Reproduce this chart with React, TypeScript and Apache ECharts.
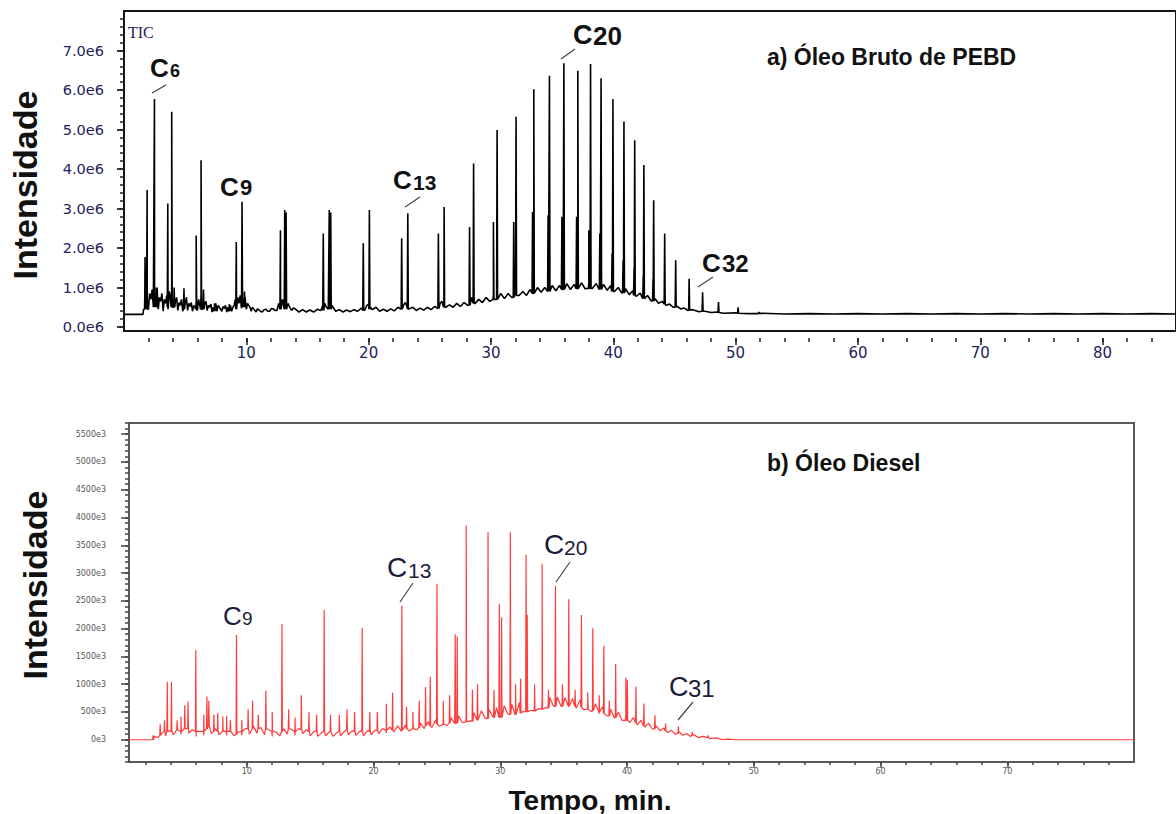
import React, { useEffect, useRef } from "react";
import * as echarts from "echarts";

// ---------- data: a) Óleo Bruto de PEBD (intensity in units of 1e6) ----------
const topBase: [number, number][] = [
  [0, 0.32], [1.55, 0.32], [1.6, 0.45], [1.7, 0.8], [1.8, 0.6], [1.9, 0.9], [2.0, 0.45], [2.1, 0.85], [2.2, 0.7],
  [2.3, 0.95], [2.4, 0.5], [2.5, 0.8], [2.6, 0.75], [2.7, 1.0], [2.8, 0.45], [2.9, 0.75], [3.0, 0.65], [3.1, 0.85],
  [3.2, 0.4], [3.3, 0.7], [3.4, 0.6], [3.5, 0.8], [3.6, 0.45], [3.7, 0.9], [3.8, 0.7], [3.9, 1.0], [4.0, 0.5],
  [4.1, 0.95], [4.2, 0.65], [4.3, 0.75], [4.4, 0.42], [4.5, 0.62], [4.6, 0.55], [4.7, 0.7], [4.8, 0.4], [4.9, 0.9],
  [5.0, 0.6], [5.1, 0.75], [5.2, 0.42], [5.3, 0.6], [5.4, 0.52], [5.5, 0.62], [5.6, 0.4], [5.7, 0.55], [5.8, 0.5],
  [5.9, 0.65], [6.0, 0.42], [6.1, 0.7], [6.2, 0.55], [6.3, 0.8], [6.4, 0.45], [6.5, 0.9], [6.6, 0.6], [6.7, 0.65],
  [6.8, 0.42], [6.9, 0.55], [7.0, 0.5], [7.1, 0.58], [7.2, 0.38], [7.3, 0.5], [7.4, 0.48], [7.5, 0.6], [7.6, 0.4],
  [7.7, 0.55], [7.8, 0.5], [7.9, 0.45], [8.0, 0.4], [8.1, 0.52], [8.2, 0.47], [8.3, 0.55], [8.4, 0.38], [8.5, 0.5],
  [8.6, 0.46], [8.7, 0.55], [8.8, 0.4], [8.9, 0.5], [9.0, 0.55], [9.1, 0.7], [9.2, 0.45], [9.3, 0.75], [9.4, 0.6],
  [9.5, 0.8], [9.6, 0.48], [9.7, 0.7], [9.8, 0.62], [9.9, 0.75], [10.0, 0.45], [10.1, 0.6], [10.2, 0.55],
  [10.3, 0.5], [10.4, 0.4], [10.5, 0.5], [10.6, 0.46], [10.7, 0.42], [10.8, 0.38], [10.9, 0.46], [11.0, 0.44],
  [11.15, 0.4], [11.3, 0.38], [11.45, 0.44], [11.6, 0.45], [11.75, 0.4], [11.9, 0.4], [12.05, 0.47], [12.2, 0.46],
  [12.35, 0.42], [12.5, 0.42], [12.65, 0.6], [12.8, 0.55], [12.95, 0.7], [13.1, 0.45], [13.25, 0.75], [13.4, 0.6],
  [13.55, 0.5], [13.7, 0.42], [13.85, 0.48], [14.0, 0.46], [14.3, 0.38], [14.6, 0.44], [14.9, 0.38], [15.2, 0.43],
  [15.5, 0.38], [15.8, 0.45], [16.1, 0.42], [16.25, 0.55], [16.4, 0.6], [16.55, 0.5], [16.7, 0.45], [16.85, 0.65],
  [17.0, 0.55], [17.3, 0.4], [17.6, 0.44], [17.9, 0.38], [18.2, 0.43], [18.5, 0.39], [18.8, 0.44], [19.1, 0.4],
  [19.4, 0.48], [19.7, 0.43], [19.85, 0.55], [20.0, 0.58], [20.15, 0.5], [20.3, 0.44], [20.6, 0.5], [20.9, 0.4],
  [21.2, 0.45], [21.5, 0.4], [21.8, 0.46], [22.1, 0.41], [22.4, 0.5], [22.7, 0.45], [22.85, 0.55], [23.0, 0.62],
  [23.15, 0.5], [23.3, 0.46], [23.6, 0.5], [23.9, 0.42], [24.2, 0.48], [24.5, 0.43], [24.8, 0.5], [25.1, 0.44],
  [25.4, 0.52], [25.7, 0.47], [25.85, 0.6], [26.0, 0.65], [26.15, 0.55], [26.3, 0.5], [26.6, 0.56], [26.9, 0.5],
  [27.2, 0.6], [27.5, 0.52], [27.8, 0.62], [28.1, 0.55], [28.4, 0.75], [28.7, 0.6], [29.0, 0.7], [29.3, 0.62],
  [29.6, 0.75], [29.9, 0.65], [30.2, 0.8], [30.5, 0.7], [30.8, 0.85], [31.1, 0.72], [31.4, 0.85], [31.7, 0.75],
  [32.0, 0.92], [32.3, 0.8], [32.6, 0.9], [32.9, 0.8], [33.2, 0.95], [33.5, 0.85], [33.8, 1.0], [34.1, 0.88],
  [34.4, 1.0], [34.7, 0.9], [35.0, 1.05], [35.3, 0.92], [35.6, 1.05], [35.9, 0.95], [36.2, 1.1], [36.5, 0.95],
  [36.8, 1.08], [37.1, 0.97], [37.4, 1.12], [37.7, 0.97], [38.0, 1.1], [38.3, 0.98], [38.6, 1.1], [38.9, 0.95],
  [39.2, 1.08], [39.5, 0.93], [39.8, 1.05], [40.1, 0.9], [40.4, 1.0], [40.7, 0.86], [41.0, 0.97], [41.3, 0.82],
  [41.6, 0.92], [41.9, 0.78], [42.2, 0.86], [42.5, 0.72], [42.8, 0.8], [43.1, 0.66], [43.4, 0.72], [43.7, 0.6],
  [44.0, 0.65], [44.3, 0.55], [44.6, 0.58], [44.9, 0.5], [45.2, 0.53], [45.5, 0.46], [45.8, 0.48], [46.1, 0.42],
  [46.5, 0.44], [47.0, 0.39], [47.5, 0.4], [48.0, 0.37], [48.5, 0.38], [49.0, 0.35], [50, 0.36], [51, 0.34],
  [52, 0.35], [54, 0.33], [56, 0.34], [58, 0.33], [60, 0.34], [62, 0.33], [64, 0.34], [66, 0.33], [68, 0.34],
  [70, 0.33], [72, 0.34], [74, 0.33], [76, 0.34], [78, 0.33], [80, 0.34], [82, 0.33], [84, 0.34], [86, 0.33],
];

// [retention time, base, apex]
const topPeaks: [number, number, number][] = [
  [1.72, 0.45, 1.77], [1.89, 0.45, 3.47], [2.49, 0.5, 5.77], [2.65, 0.5, 1.0], [3.58, 0.5, 3.13], [3.9, 0.5, 5.45],
  [4.1, 0.5, 1.0], [4.9, 0.45, 0.98], [5.9, 0.45, 2.32], [6.3, 0.45, 4.22], [6.5, 0.45, 0.95], [7.4, 0.4, 0.6],
  [8.6, 0.4, 0.58], [9.18, 0.45, 2.15], [9.65, 0.5, 3.17], [9.85, 0.5, 0.9], [12.79, 0.45, 2.45], [13.14, 0.45, 2.96],
  [13.25, 0.45, 2.9], [16.29, 0.42, 2.37], [16.78, 0.45, 2.96], [16.9, 0.45, 2.9], [19.56, 0.42, 2.12],
  [20.06, 0.45, 2.96], [22.7, 0.45, 2.25], [23.2, 0.45, 2.88], [25.7, 0.47, 2.37], [26.17, 0.5, 3.04],
  [28.25, 0.55, 2.53], [28.58, 0.6, 4.14], [30.2, 0.7, 2.66], [30.5, 0.7, 4.99], [31.86, 0.75, 2.66],
  [32.05, 0.8, 5.32], [33.4, 0.85, 2.91], [33.5, 0.85, 6.02], [34.67, 0.9, 2.83], [34.78, 0.9, 6.36],
  [35.8, 0.95, 2.79], [35.96, 0.95, 6.68], [37.0, 0.97, 2.79], [37.1, 0.97, 6.49], [38.0, 0.98, 2.45],
  [38.14, 0.98, 6.66], [38.9, 0.95, 2.37], [39.0, 0.95, 6.3], [39.9, 0.9, 1.86], [39.97, 0.9, 5.77],
  [40.8, 0.86, 1.69], [40.87, 0.86, 5.2], [41.7, 0.8, 1.5], [41.75, 0.8, 4.73], [42.45, 0.72, 1.3],
  [42.5, 0.72, 4.1], [43.25, 0.66, 1.2], [43.3, 0.66, 3.21], [44.2, 0.58, 2.37], [45.1, 0.5, 1.69],
  [46.2, 0.43, 1.22], [47.3, 0.4, 0.88], [48.6, 0.37, 0.63], [50.2, 0.35, 0.5], [51.9, 0.34, 0.38],
];

// ---------- data: b) Óleo Diesel (intensity in units of 1e3) ----------
const dieselBase: [number, number][] = [
  [0.7, 0], [2.5, 0], [2.7, 60], [3.0, 40], [3.3, 120], [3.6, 70], [3.9, 160], [4.2, 90], [4.5, 170], [4.8, 100],
  [5.1, 210], [5.4, 120], [5.7, 180], [6.0, 60], [6.3, 150], [6.6, 80], [6.9, 200], [7.2, 110], [7.5, 200], [7.8, 90],
  [8.1, 180], [8.4, 80], [8.7, 160], [9.0, 70], [9.3, 140], [9.6, 80], [9.9, 200], [10.2, 100], [10.5, 250],
  [10.8, 120], [11.1, 220], [11.4, 90], [11.7, 180], [12.0, 60], [12.3, 140], [12.6, 70], [12.9, 200], [13.2, 100],
  [13.5, 190], [13.8, 80], [14.1, 200], [14.4, 110], [14.7, 180], [15.0, 70], [15.3, 150], [15.6, 60], [15.9, 130],
  [16.2, 70], [16.5, 140], [16.8, 60], [17.1, 130], [17.4, 70], [17.7, 150], [18.0, 90], [18.3, 160], [18.6, 80],
  [18.9, 150], [19.2, 70], [19.5, 160], [19.8, 90], [20.1, 170], [20.4, 110], [20.7, 200], [21.0, 120], [21.3, 230],
  [21.6, 140], [21.9, 250], [22.2, 150], [22.5, 260], [22.8, 160], [23.1, 280], [23.4, 180], [23.7, 300], [24.0, 200],
  [24.3, 330], [24.6, 220], [24.9, 360], [25.2, 240], [25.5, 380], [25.8, 260], [26.1, 400], [26.4, 290], [26.7, 430],
  [27.0, 310], [27.3, 460], [27.6, 340], [27.9, 490], [28.2, 360], [28.5, 520], [28.8, 390], [29.1, 550], [29.4, 420],
  [29.7, 580], [30.0, 440], [30.3, 610], [30.6, 460], [30.9, 640], [31.2, 490], [31.5, 670], [31.8, 510], [32.1, 700],
  [32.4, 530], [32.7, 720], [33.0, 560], [33.3, 740], [33.6, 580], [33.9, 760], [34.2, 600], [34.5, 770], [34.8, 600],
  [35.1, 760], [35.4, 590], [35.7, 740], [36.0, 570], [36.3, 720], [36.6, 540], [36.9, 690], [37.2, 510], [37.5, 650],
  [37.8, 470], [38.1, 600], [38.4, 430], [38.7, 550], [39.0, 390], [39.3, 500], [39.6, 350], [39.9, 450], [40.2, 310],
  [40.5, 400], [40.8, 270], [41.1, 350], [41.4, 230], [41.7, 300], [42.0, 190], [42.3, 250], [42.6, 160], [42.9, 210],
  [43.2, 130], [43.5, 170], [43.8, 100], [44.1, 140], [44.4, 80], [44.7, 110], [45.0, 60], [45.3, 90], [45.6, 40],
  [46.0, 60], [46.5, 20], [47.0, 35], [47.5, 5], [48.0, 10], [48.5, 0], [80, 0],
];

const dieselPeaks: [number, number, number][] = [
  [2.6, 0, 80], [3.16, 80, 280], [3.5, 150, 350], [3.72, 150, 1043], [4.05, 150, 1043], [4.5, 180, 350],
  [4.8, 150, 420], [5.1, 200, 620], [5.36, 200, 690], [5.97, 150, 1615], [6.6, 150, 450], [6.85, 200, 780],
  [7.0, 250, 700], [7.4, 150, 450], [7.7, 150, 480], [8.1, 150, 420], [8.4, 150, 430], [8.7, 150, 350],
  [9.18, 100, 1886], [9.6, 150, 350], [10.1, 200, 550], [10.45, 200, 700], [10.9, 200, 450], [11.5, 200, 880],
  [12.0, 150, 500], [12.77, 150, 2084], [13.3, 200, 550], [13.8, 150, 400], [14.3, 180, 800], [14.9, 150, 500],
  [15.5, 150, 450], [16.1, 150, 2337], [16.6, 150, 450], [17.3, 150, 450], [17.9, 180, 550], [18.5, 150, 500],
  [19.1, 150, 2013], [19.7, 150, 500], [20.3, 170, 500], [21.0, 170, 650], [21.5, 170, 845], [22.23, 170, 2410],
  [22.6, 200, 600], [23.1, 200, 500], [23.6, 220, 700], [24.1, 250, 950], [24.47, 250, 1134], [25.0, 280, 2807],
  [25.5, 280, 700], [26.0, 300, 800], [26.44, 300, 1900], [26.6, 300, 1856], [27.31, 320, 3854], [27.8, 330, 900],
  [28.2, 350, 1000], [29.03, 380, 3733], [29.5, 400, 900], [29.92, 400, 2446], [30.1, 400, 2200], [30.79, 450, 3733],
  [31.2, 450, 1000], [31.6, 480, 1100], [32.03, 500, 3330], [32.12, 500, 2250], [32.7, 520, 1000], [33.3, 550, 3168],
  [33.8, 570, 900], [34.35, 600, 2770], [34.9, 600, 1000], [35.4, 600, 2530], [35.9, 600, 900], [36.4, 580, 2247],
  [36.9, 550, 850], [37.3, 520, 2007], [37.8, 500, 800], [38.17, 470, 1693], [38.6, 430, 700], [39.1, 400, 1363],
  [39.9, 350, 1122], [40.02, 350, 1080], [40.7, 300, 953], [41.33, 250, 653], [42.2, 200, 442], [43.04, 160, 292],
  [44.05, 120, 244], [45.15, 80, 141], [46.4, 40, 80],
];

// ---------- tick labels ----------
const topXLabels = [10, 20, 30, 40, 50, 60, 70, 80];
const topYLabels = [0, 1, 2, 3, 4, 5, 6, 7];
const botXLabels = [10, 20, 30, 40, 50, 60, 70];
const botYLabels = [0, 500, 1000, 1500, 2000, 2500, 3000, 3500, 4000, 4500, 5000, 5500];

const steps = (from: number, to: number, step: number) => {
  const out: number[] = [];
  for (let v = from; v <= to + 1e-9; v += step) out.push(Math.round(v * 1000) / 1000);
  return out;
};

const buildTrace = (base: [number, number][], peaks: [number, number, number][], w: number) => {
  const pts: [number, number][] = base.map(([t, v]) => [t, v]);
  peaks.forEach(([t, b, h]) => {
    pts.push([t - w, b], [t, h], [t + w, b]);
  });
  pts.sort((a, b) => a[0] - b[0]);
  return pts;
};

const NAVY = "#22225a";

export default function App() {
  const ref = useRef<HTMLDivElement>(null);
  useEffect(() => {
    if (!ref.current) return;
    const chart = echarts.init(ref.current, null, { renderer: "svg" });

    const hidden = { show: false };
    const noLine = { show: false, onZero: false };
    const topX = { gridIndex: 0, type: "value", min: 0, max: 86, position: "bottom" };
    const botX = { gridIndex: 1, type: "value", min: 0.7, max: 80, position: "bottom" };
    const topY = { gridIndex: 0, type: "value", min: -0.1, max: 8.0, position: "left" };
    const botY = { gridIndex: 1, type: "value", min: -400, max: 5700, position: "left" };

    const C = (x: number, y: number, t: string, size: number, bold: boolean, color: string) => ({
      type: "text",
      x,
      y,
      z: 100,
      style: {
        text: t,
        fontSize: size,
        fontWeight: bold ? "bold" : "normal",
        fontFamily: "Liberation Sans, Arial, sans-serif",
        fill: color,
        align: "left",
        verticalAlign: "middle",
      },
    });
    const L = (x1: number, y1: number, x2: number, y2: number) => ({
      type: "line",
      z: 100,
      shape: { x1, y1, x2, y2 },
      style: { stroke: "#444", lineWidth: 1.2 },
    });

    const K = "#111";
    const B = "#1b1b3a";

    chart.setOption({
      animation: false,
      backgroundColor: "#fff",
      grid: [
        { left: 124, top: 11, width: 1056, height: 320, show: true, borderColor: "#151515", borderWidth: 2 },
        { left: 129, top: 423, width: 1005, height: 339, show: true, borderColor: "#5a5a5a", borderWidth: 2 },
      ],
      xAxis: [
        { ...topX, axisLine: noLine, axisTick: hidden, axisLabel: hidden, splitLine: hidden },
        {
          ...topX, offset: 7, axisLine: noLine, splitLine: hidden, axisLabel: hidden,
          axisTick: { show: true, length: 4, customValues: steps(2, 84, 2), lineStyle: { color: "#222", width: 1.5 } },
        },
        {
          ...topX, offset: 7, axisLine: noLine, splitLine: hidden,
          axisTick: { show: true, length: 7, customValues: topXLabels, lineStyle: { color: "#222", width: 1.5 } },
          axisLabel: { customValues: topXLabels, margin: 7, fontSize: 15, fontFamily: "DejaVu Sans", color: NAVY },
        },
        { ...botX, axisLine: noLine, axisTick: hidden, axisLabel: hidden, splitLine: hidden },
        {
          ...botX, axisLine: noLine, splitLine: hidden, axisLabel: hidden,
          axisTick: { show: true, length: 3, customValues: steps(2, 78, 2), lineStyle: { color: "#444", width: 1.5 } },
        },
        {
          ...botX, axisLine: noLine, splitLine: hidden,
          axisTick: { show: true, length: 6, customValues: botXLabels, lineStyle: { color: "#444", width: 1.5 } },
          axisLabel: { customValues: botXLabels, margin: 5, fontSize: 8, fontFamily: "DejaVu Sans", color: "#555" },
        },
      ],
      yAxis: [
        { ...topY, axisLine: noLine, axisTick: hidden, axisLabel: hidden, splitLine: hidden },
        {
          ...topY, axisLine: noLine, splitLine: hidden, axisLabel: hidden,
          axisTick: { show: true, length: 4, customValues: steps(0, 7.8, 0.2), lineStyle: { color: "#222", width: 1.5 } },
        },
        {
          ...topY, axisLine: noLine, splitLine: hidden,
          axisTick: { show: true, length: 7, customValues: topYLabels, lineStyle: { color: "#222", width: 1.8 } },
          axisLabel: {
            customValues: topYLabels, margin: 20, fontSize: 14.5, fontFamily: "DejaVu Sans", color: NAVY,
            formatter: (v: number) => `${v.toFixed(1)}e6`,
          },
        },
        { ...botY, axisLine: noLine, axisTick: hidden, axisLabel: hidden, splitLine: hidden },
        {
          ...botY, axisLine: noLine, splitLine: hidden, axisLabel: hidden,
          axisTick: { show: true, length: 4, customValues: steps(-400, 5700, 100), lineStyle: { color: "#444", width: 1.5 } },
        },
        {
          ...botY, axisLine: noLine, splitLine: hidden,
          axisTick: { show: true, length: 8, customValues: botYLabels, lineStyle: { color: "#444", width: 1.5 } },
          axisLabel: {
            customValues: botYLabels, margin: 23, fontSize: 8, fontFamily: "DejaVu Sans", color: "#555",
            formatter: (v: number) => `${v}e3`,
          },
        },
      ],
      series: [
        {
          type: "line", xAxisIndex: 0, yAxisIndex: 0, showSymbol: false, symbol: "none", clip: true,
          data: buildTrace(topBase, topPeaks, 0.04),
          lineStyle: { color: "#000", width: 1.6 },
        },
        {
          type: "line", xAxisIndex: 3, yAxisIndex: 3, showSymbol: false, symbol: "none", clip: true,
          data: buildTrace(dieselBase, dieselPeaks, 0.03),
          lineStyle: { color: "#ff3b3b", width: 1.2 },
        },
      ],
      graphic: [
        { type: "text", x: 128, y: 32, z: 100, style: { text: "TIC", fontSize: 16, fontFamily: "Liberation Serif", fill: NAVY, verticalAlign: "middle" } },
        {
          type: "text", x: 25, y: 185, rotation: Math.PI / 2, z: 100,
          style: { text: "Intensidade", fontSize: 34, fontWeight: "bold", fontFamily: "Liberation Sans", fill: "#111", align: "center", verticalAlign: "middle" },
        },
        {
          type: "text", x: 35, y: 585, rotation: Math.PI / 2, z: 100,
          style: { text: "Intensidade", fontSize: 34, fontWeight: "bold", fontFamily: "Liberation Sans", fill: "#111", align: "center", verticalAlign: "middle" },
        },
        {
          type: "text", x: 590, y: 800, z: 100,
          style: { text: "Tempo, min.", fontSize: 28, fontWeight: "bold", fontFamily: "Liberation Sans", fill: "#111", align: "center", verticalAlign: "middle" },
        },
        {
          type: "text", x: 767, y: 57, z: 100,
          style: { text: "a) Óleo Bruto de PEBD", fontSize: 23, fontWeight: "bold", fontFamily: "Liberation Sans", fill: "#111", verticalAlign: "middle" },
        },
        {
          type: "text", x: 767, y: 463, z: 100,
          style: { text: "b) Óleo Diesel", fontSize: 23, fontWeight: "bold", fontFamily: "Liberation Sans", fill: "#111", verticalAlign: "middle" },
        },
        // top annotations
        C(150, 68, "C", 26, true, K), C(170, 71, "6", 18, true, K), L(152, 93, 166, 85),
        C(220, 186.5, "C", 26, true, K), C(240, 187, "9", 22, true, K),
        C(393, 180, "C", 26, true, K), C(413, 182.5, "13", 21, true, K), L(405, 207, 420, 197),
        C(573, 35, "C", 27, true, K), C(593, 35.7, "20", 26, true, K), L(561, 59, 575, 49),
        C(702, 262.5, "C", 26, true, K), C(722, 263.4, "32", 24, true, K), L(698, 287, 713, 277),
        // bottom annotations
        C(223, 616, "C", 26, false, B), C(242, 618, "9", 19, false, B),
        C(387, 567.5, "C", 28, false, B), C(408, 570.5, "13", 21, false, B), L(400, 602, 413, 583),
        C(544, 544, "C", 28, false, B), C(564, 547.5, "20", 21, false, B), L(556, 582, 570, 562),
        C(669, 687, "C", 27, false, B), C(688, 688.4, "31", 24, false, B), L(678, 720, 693, 702),
      ],
    });
    return () => chart.dispose();
  }, []);

  return <div ref={ref} style={{ position: "absolute", left: 0, top: 0, width: 1176, height: 814 }} />;
}
